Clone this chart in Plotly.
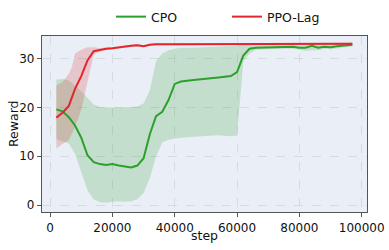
import plotly.graph_objects as go

# ---------------- data ----------------
cpo_x = [2000, 4000, 6000, 8000, 10000, 12000, 14000, 16000, 18000, 20000, 22000, 24000,
         26000, 28000, 30000, 32000, 34000, 36000, 38000, 40000, 42000, 46000, 50000, 54000,
         58000, 60000, 62000, 64000, 66000, 70000, 74000, 78000, 80000, 82000, 84000, 86000,
         88000, 90000, 92000, 94000, 96000, 97000]
cpo_y = [19.6, 19.2, 18.0, 16.3, 13.8, 10.2, 8.8, 8.4, 8.2, 8.4, 8.1, 7.9,
         7.7, 8.1, 9.6, 14.5, 18.2, 19.1, 21.5, 24.8, 25.3, 25.6, 25.8, 26.1,
         26.4, 27.2, 30.6, 32.0, 32.2, 32.3, 32.4, 32.4, 32.2, 32.2, 32.6, 32.2,
         32.4, 32.3, 32.5, 32.6, 32.7, 32.8]
cpo_hi = [25.7, 25.8, 25.5, 24.5, 23.3, 22.0, 20.6, 20.1, 20.0, 20.0, 20.0, 20.0,
          20.1, 20.2, 20.8, 23.5, 29.5, 31.0, 31.7, 32.0, 32.2, 32.2, 32.3, 32.3,
          32.4, 32.6, 33.0, 33.0, 32.7, 32.7, 32.8, 32.8, 32.6, 32.7, 33.0, 32.7,
          32.8, 32.7, 32.9, 33.0, 33.0, 33.1]
cpo_lo = [13.5, 13.0, 12.6, 10.5, 7.0, 3.0, 1.2, 0.6, 0.5, 0.7, 0.8, 0.7,
          0.8, 1.2, 2.5, 5.5, 10.0, 12.8, 13.4, 13.6, 13.8, 14.0, 14.2, 14.3,
          14.1, 14.2, 29.5, 31.0, 31.8, 31.9, 32.0, 32.0, 31.8, 31.6, 31.7, 31.7,
          32.0, 31.9, 32.1, 32.2, 32.4, 32.5]

ppo_x = [2000, 4000, 6000, 7000, 8000, 10000, 12000, 14000, 16000, 18000, 20000, 22000,
         24000, 26000, 28000, 30000, 32000, 34000, 40000, 50000, 60000, 70000, 80000,
         90000, 97000]
ppo_y = [17.9, 18.9, 20.3, 22.0, 23.8, 26.4, 29.6, 31.5, 31.8, 32.0, 32.1, 32.3,
         32.5, 32.6, 32.7, 32.5, 32.8, 32.9, 32.9, 32.9, 33.0, 33.0, 33.0, 33.0, 33.0]
ppo_hi = [24.5, 25.2, 26.9, 28.3, 31.0, 31.8, 32.3, 32.3, 32.1, 32.3, 32.3, 32.5,
          32.7, 32.8, 32.9, 32.7, 33.0, 33.1, 33.1, 33.1, 33.2, 33.2, 33.2, 33.2, 33.2]
ppo_lo = [11.6, 12.5, 13.3, 14.5, 16.0, 19.5, 25.0, 30.8, 31.5, 31.7, 31.9, 32.1,
          32.3, 32.4, 32.5, 32.3, 32.6, 32.7, 32.7, 32.7, 32.8, 32.8, 32.8, 32.8, 32.8]

x_ticks = [0, 20000, 40000, 60000, 80000, 100000]
y_ticks = [0, 10, 20, 30]

GREEN = "#2ca02c"
RED = "#e3262b"
FONT = "DejaVu Sans"

W, H = 389, 250
ML, MR, MT, MB = 42, 22, 36, 38
PW, PH = W - ML - MR, H - MT - MB

fig = go.Figure()

def band(x, lo, hi, color):
    fig.add_trace(go.Scatter(
        x=list(x) + list(x)[::-1], y=list(hi) + list(lo)[::-1],
        fill="toself", fillcolor=color, line=dict(width=0),
        mode="lines", hoverinfo="skip", showlegend=False))

band(cpo_x, cpo_lo, cpo_hi, "rgba(44,160,44,0.2)")
band(ppo_x, ppo_lo, ppo_hi, "rgba(214,39,40,0.2)")

fig.add_trace(go.Scatter(x=cpo_x, y=cpo_y, mode="lines", name="CPO",
                         line=dict(color=GREEN, width=2)))
fig.add_trace(go.Scatter(x=ppo_x, y=ppo_y, mode="lines", name="PPO-Lag",
                         line=dict(color=RED, width=2)))

axis_common = dict(
    showline=True, mirror=True, linecolor="#555555", linewidth=1.3,
    showgrid=True, gridcolor="#d6dae1", griddash="dash", gridwidth=0.8,
    zeroline=False, ticks="outside", ticklen=4, tickcolor="#555555",
    tickfont=dict(family=FONT, size=12, color="#111111"),
    automargin=False,
)

fig.update_layout(
    width=W, height=H,
    margin=dict(l=ML, r=MR, t=MT, b=MB),
    paper_bgcolor="white", plot_bgcolor="#eaeef6",
    font=dict(family=FONT, size=12, color="#111111"),
    showlegend=True,
    legend=dict(orientation="h", x=(115 - 4) / W, xanchor="left", xref="container",
                y=1 - 17 / H, yanchor="middle", yref="container",
                font=dict(family=FONT, size=12.5), bgcolor="rgba(0,0,0,0)",
                entrywidth=71, entrywidthmode="pixels",
                itemwidth=30, tracegroupgap=0),
    xaxis=dict(axis_common, range=[-2600, 101700], tickvals=x_ticks,
               ticktext=[str(v) for v in x_ticks]),
    yaxis=dict(axis_common, range=[-1.4, 34.6], tickvals=y_ticks,
               ticktext=[str(v) for v in y_ticks]),
    annotations=[
        dict(text="step", xref="paper", yref="paper", x=0.5,
             y=-(236 - (H - MB)) / PH, xanchor="center", yanchor="middle",
             showarrow=False, font=dict(family=FONT, size=12.5, color="#111111")),
        dict(text="Reward", xref="paper", yref="paper", x=-(ML - 13) / PW,
             y=0.5, xanchor="center", yanchor="middle", textangle=-90,
             showarrow=False, font=dict(family=FONT, size=12.5, color="#111111")),
    ],
)

fig.write_html("out.html", config={"displayModeBar": False},
               post_script="document.body.style.margin='0';document.body.style.overflow='hidden';")
